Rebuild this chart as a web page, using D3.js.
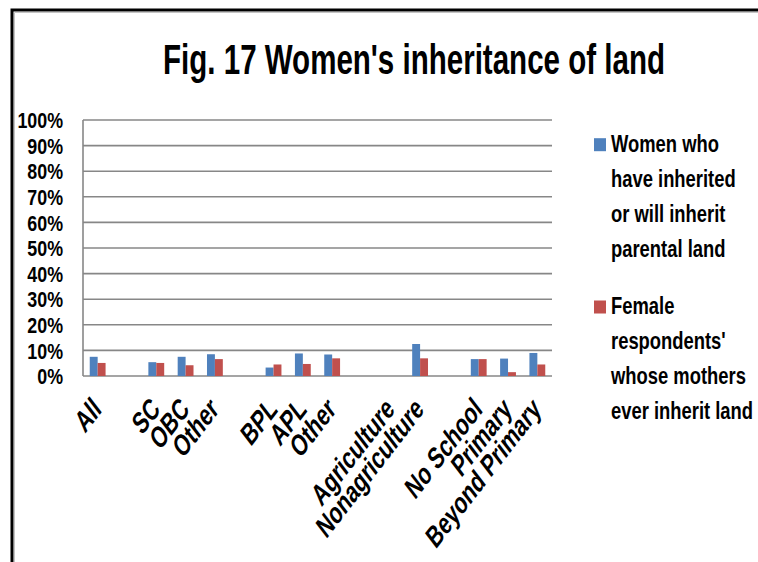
<!DOCTYPE html>
<html><head><meta charset="utf-8">
<script src="https://cdn.jsdelivr.net/npm/d3@7"></script>
<style>
body{margin:0;background:#fff;}
svg{display:block;}
text{font-family:"Liberation Sans",Arial,sans-serif;font-weight:bold;fill:#000;}
</style></head>
<body>
<svg id="c" width="758" height="562"></svg>
<script>
const categories = ["All","","SC","OBC","Other","","BPL","APL","Other","","Agriculture","Nonagriculture","","No School","Primary","Beyond Primary"];
const seriesNames = ["Women who have inherited or will inherit parental land","Female respondents' whose mothers ever inherit land"];
const inherited = [0.075,null,0.054,0.075,0.085,null,0.033,0.088,0.084,null,0,0.125,null,0.066,0.068,0.090];
const mothers   = [0.051,null,0.051,0.042,0.066,null,0.045,0.047,0.069,null,0,0.069,null,0.066,0.015,0.045];
const yTicks = [0,0.1,0.2,0.3,0.4,0.5,0.6,0.7,0.8,0.9,1.0];
const legendLines = [["Women who","have inherited","or will inherit","parental land"],["Female","respondents'","whose mothers","ever inherit land"]];
const colors = ["#4F81BD","#C0504D"];
const SX = 0.82;  // horizontal condensing
const KY = 1.3;   // vertical stretch of the original picture

const svg = d3.select("#c");
// frame
svg.append("path").attr("d","M12,562 V10 H758").attr("fill","none").attr("stroke","#000").attr("stroke-width",3);
svg.append("path").attr("d","M14.5,562 V12.5 H758").attr("fill","none").attr("stroke","#c4c4c4").attr("stroke-width",1);

const x = d3.scaleBand().domain(d3.range(categories.length)).range([83,552]);
const y = d3.scaleLinear().domain([0,1]).range([376,120]);

// title
const title = svg.append("text").attr("text-anchor","middle").style("font-size","42px").text("Fig. 17 Women's inheritance of land");
const tw = title.node().getComputedTextLength();
title.attr("transform",`translate(414,74) scale(${502/tw},1)`);

// gridlines
svg.append("g").selectAll("line").data(yTicks).join("line")
  .attr("x1",83).attr("x2",552).attr("y1",d=>y(d)).attr("y2",d=>y(d))
  .attr("stroke","#878787").attr("stroke-width",1.6);
svg.append("line").attr("x1",83).attr("x2",83).attr("y1",y(1)).attr("y2",y(0)).attr("stroke","#878787").attr("stroke-width",1.6);

// y axis labels
const yAxis = d3.axisLeft(y).tickValues(yTicks).tickFormat(d3.format(".0%")).tickSize(0).tickPadding(20);
const gy = svg.append("g").attr("transform","translate(83,0)").call(yAxis);
gy.select(".domain").remove();
gy.selectAll("text").style("font-size","21.5px").style("font-family",null).attr("fill","#000")
  .attr("x",-20/0.83).attr("dy","0.36em").attr("transform",`scale(0.83,1)`);

// bars
const bw = x.bandwidth()*0.27;
[inherited,mothers].forEach((vals,s)=>{
  svg.append("g").selectAll("rect").data(vals.map((v,i)=>({v,i})).filter(d=>d.v!==null))
    .join("rect")
    .attr("x",d=>x(d.i)+x.bandwidth()/2 - bw + s*bw)
    .attr("width",bw)
    .attr("y",d=>y(d.v))
    .attr("height",d=>y(0)-y(d.v))
    .attr("fill",colors[s]);
});

// x labels
svg.append("g").selectAll("text").data(categories.map((c,i)=>({c,i})).filter(d=>d.c!==""))
  .join("text")
  .attr("transform",d=>`translate(${x(d.i)+x.bandwidth()/2+5},411) scale(1,${KY}) rotate(-45) scale(${SX},1)`)
  .attr("text-anchor","end")
  .style("font-size","24px")
  .text(d=>d.c);

// legend
legendLines.forEach((lines,s)=>{
  const top = s===0 ? 151.7 : 314;
  svg.append("rect").attr("x",594).attr("y",top-13.5).attr("width",12).attr("height",13).attr("fill",colors[s]);
  svg.append("g").selectAll("text").data(lines).join("text")
    .attr("transform",(d,k)=>`translate(611,${top+k*35}) scale(0.8,1)`)
    .style("font-size","23px").text(d=>d);
});
</script>
</body></html>
